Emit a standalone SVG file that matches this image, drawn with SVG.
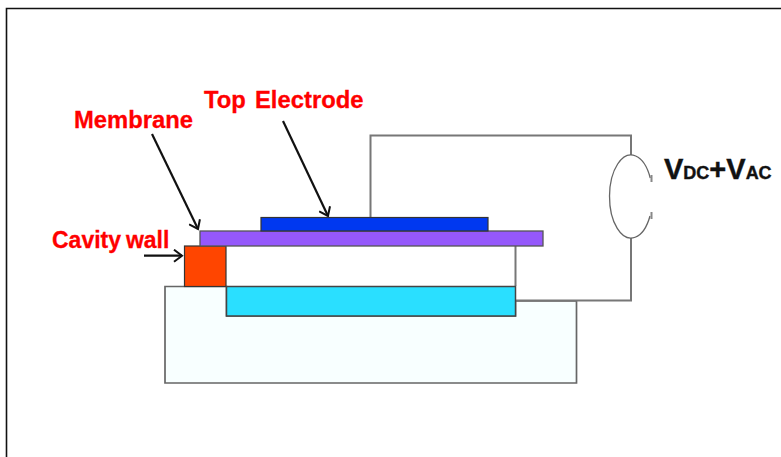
<svg xmlns="http://www.w3.org/2000/svg" width="781" height="457" viewBox="0 0 781 457">
<defs>
<marker id="arrow" viewBox="0 0 14 14" refX="12" refY="7" markerWidth="14" markerHeight="14" markerUnits="userSpaceOnUse" orient="auto"><path d="M4 1L12 7L4 13" fill="none" stroke="#111" stroke-width="2"/></marker>
</defs>
<style>
.lab{font-family:"Liberation Sans",Arial,sans-serif;font-weight:700;font-size:23.800px;fill:#ff0000;stroke:#ff0000;stroke-width:.3}
.v{font-family:"Liberation Sans",Arial,sans-serif;font-weight:700;fill:#111;stroke:#111;stroke-width:.4}
.w{fill:none;stroke:#777;stroke-width:2}
.a{fill:none;stroke:#111;stroke-width:2.200;marker-end:url(#arrow)}
</style>
<rect width="781" height="457" fill="#fff"/>
<path d="M6.500 457V8.500H781" fill="none" stroke="#111" stroke-width="1.600"/>
<g id="substrate"><path d="M165 286.500H226.500V316H515.500V301H576.500V383H165Z" fill="#f8ffff" stroke="#666" stroke-width="1.700"/></g>
<g id="connectors">
<path class="w" d="M370.500 217V135.500H631V155"/>
<path class="w" d="M631 238V300.500H516"/>
<path d="M650.250 178A21.500 41.500 0 1 0 650 216" fill="none" stroke="#666" stroke-width="1.300"/>
<path d="M651.500 175V182M651.500 212V219" fill="none" stroke="#888" stroke-width="2"/>
<path d="M515.500 246V286" class="w"/>
<path class="a" d="M152 134L198 229"/>
<path class="a" d="M283 121L328 216"/>
<path class="a" d="M144 255.700L182 255.700"/>
</g>
<g id="cavity-wall"><rect x="184.500" y="246" width="41.500" height="40.500" fill="#ff4500" stroke="#333" stroke-width="1.200"/></g>
<g id="bottom-electrode"><rect x="226.500" y="286.500" width="289" height="29.500" fill="#2adfff" stroke="#444" stroke-width="1.500"/></g>
<g id="membrane"><rect x="200" y="231" width="343" height="15" fill="#9558fb" stroke="#555" stroke-width="1.300"/></g>
<g id="top-electrode"><rect x="261" y="217.500" width="227" height="13.500" fill="#0038f0" stroke="#333" stroke-width="1.200"/></g>
<g id="labels">
<text class="lab" x="204" y="107.500">Top</text>
<text class="lab" x="255" y="107.500">Electrode</text>
<text class="lab" x="74" y="127.500">Membrane</text>
<text class="lab" x="52" y="247.500" style="font-size:23px" word-spacing="-1.500px">Cavity wall</text>
<text class="v" x="664" y="179" font-size="29">V<tspan font-size="18">DC</tspan>+V<tspan font-size="18">AC</tspan></text>
</g>
</svg>
